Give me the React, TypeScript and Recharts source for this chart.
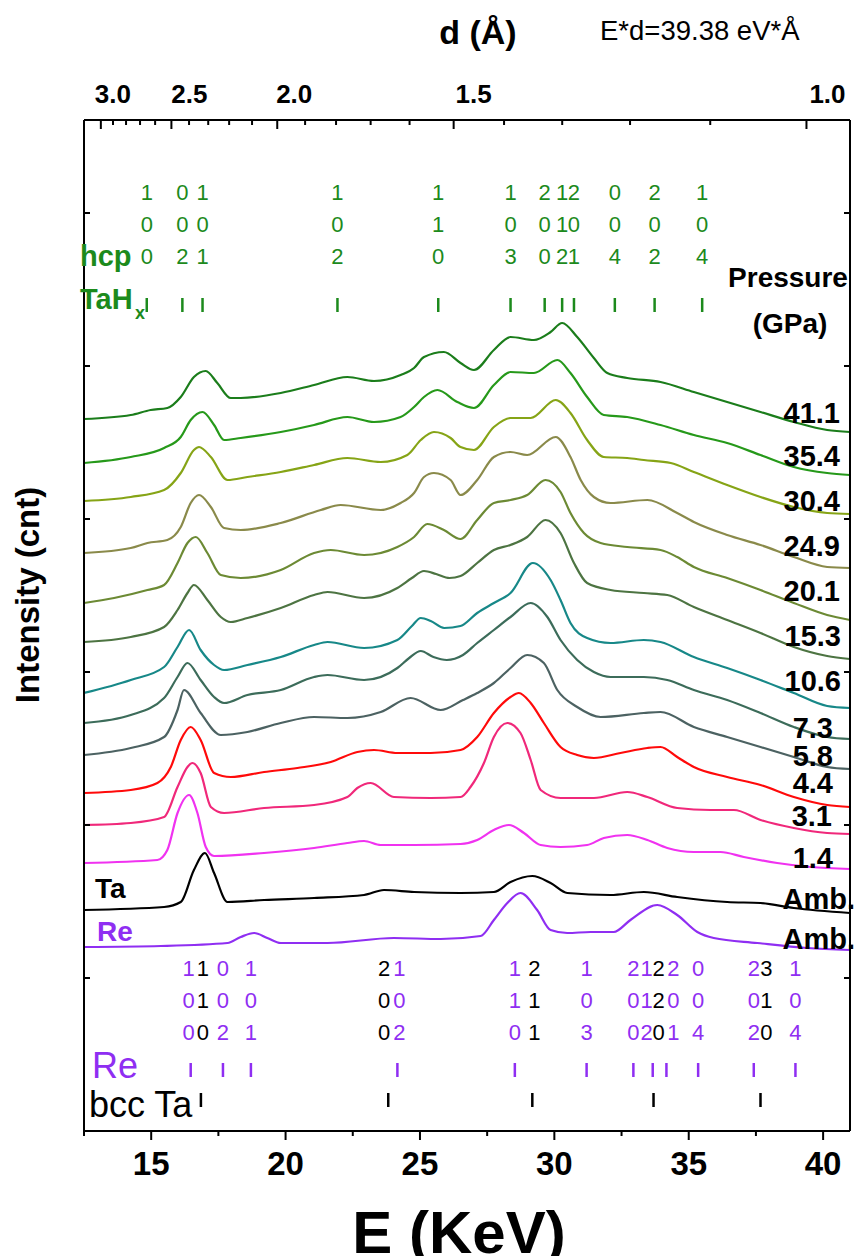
import React from "react";
import { ComposedChart, Line, Scatter, XAxis, YAxis } from "recharts";

const FONT = "'Liberation Sans', Arial, Helvetica, sans-serif";
const W = 857;
const H = 1256;
// plot frame in page pixels
const FRAME = { left: 84, right: 850, top: 120, bottom: 1131 };

// ---- spectra: [E (keV), stacked intensity (cnt)] ----
const p41_1: [number, number][] = [
  [12.5, 712], [14.24, 716], [14.98, 721], [15.6, 723], [16.1, 734], [16.59, 754], [17.03, 760],
  [17.46, 748], [17.96, 733], [18.33, 733], [19.82, 738], [21.06, 746], [22.3, 754], [23.29, 750],
  [24.28, 756], [24.78, 763], [25.15, 774], [25.89, 779], [26.51, 768], [27.01, 761], [27.75, 781],
  [28.37, 794], [29.24, 791], [29.86, 799], [30.29, 808], [30.85, 794], [31.47, 773], [31.97, 758],
  [32.71, 753], [33.95, 749], [35.19, 739], [36.43, 729], [37.67, 719], [38.91, 709], [40.15, 701], [41, 699],
];
const p35_4: [number, number][] = [
  [12.5, 668], [14.24, 674], [15.48, 683], [16.1, 694], [16.47, 711], [16.91, 719], [17.34, 706],
  [17.71, 691], [18.33, 693], [19.82, 699], [21.06, 706], [22.3, 714], [23.29, 709], [24.28, 714],
  [24.78, 724], [25.15, 734], [25.65, 741], [26.39, 729], [27.01, 723], [27.75, 746], [28.37, 759],
  [29.24, 758], [30.11, 771], [30.6, 758], [31.22, 734], [31.84, 716], [32.71, 714], [33.95, 706],
  [35.19, 696], [36.43, 688], [37.67, 676], [38.91, 664], [40.15, 658], [41, 656],
];
const p30_4: [number, number][] = [
  [12.5, 630], [14.24, 634], [15.48, 641], [16.1, 658], [16.59, 681], [16.78, 684], [17.22, 674],
  [17.84, 651], [18.58, 654], [19.82, 659], [21.06, 666], [22.3, 673], [23.54, 669], [24.53, 676],
  [25.03, 691], [25.52, 699], [26.14, 693], [26.51, 684], [27.01, 681], [27.75, 704], [28.37, 713],
  [29.12, 713], [30.05, 731], [30.6, 718], [31.22, 691], [31.84, 674], [32.71, 673], [33.33, 671],
  [34.33, 668], [35.19, 659], [36.43, 646], [37.67, 634], [38.91, 624], [40.15, 618], [41, 617],
];
const p24_9: [number, number][] = [
  [12.5, 578], [14.24, 583], [14.86, 588], [15.6, 591], [16.1, 604], [16.47, 628], [16.78, 636],
  [17.22, 624], [17.71, 603], [18.33, 601], [19.82, 608], [21.31, 621], [22.05, 626], [23.54, 621],
  [24.28, 628], [24.78, 638], [25.15, 654], [25.52, 658], [26.14, 651], [26.51, 636], [27.13, 651],
  [27.75, 674], [28.37, 679], [28.99, 676], [30.05, 694], [30.6, 674], [30.98, 651], [31.47, 634],
  [32.09, 628], [33.46, 631], [34.57, 618], [35.19, 609], [36.43, 596], [37.67, 586], [38.91, 574],
  [40.15, 564], [41, 563],
];
const p20_1: [number, number][] = [
  [12.5, 528], [13.62, 533], [14.86, 541], [15.48, 546], [15.98, 568], [16.35, 588], [16.66, 594],
  [17.09, 578], [17.59, 556], [18.33, 553], [19.82, 561], [21.06, 578], [21.68, 581], [22.92, 576],
  [24.16, 584], [24.78, 594], [25.27, 607], [25.89, 601], [26.51, 592], [27.13, 611], [27.75, 628],
  [28.37, 631], [28.99, 636], [29.67, 651], [30.23, 639], [30.6, 618], [31.1, 598], [31.72, 588],
  [32.71, 584], [33.95, 581], [34.57, 574], [35.19, 564], [36.43, 553], [37.67, 541], [38.91, 528],
  [40.15, 516], [41, 511],
];
const p15_3: [number, number][] = [
  [12.5, 489], [14.24, 494], [15.48, 504], [15.98, 521], [16.35, 538], [16.59, 546], [17.09, 531],
  [17.59, 514], [17.96, 509], [18.58, 513], [19.82, 523], [21.06, 536], [21.56, 539], [22.92, 533],
  [24.16, 543], [24.7, 553], [25.15, 560], [25.6, 557], [26.1, 553], [26.51, 555], [27.13, 568],
  [27.75, 581], [28.37, 586], [28.99, 594], [29.67, 611], [30.23, 598], [30.73, 568], [31.22, 548],
  [32.09, 541], [33.33, 538], [34.2, 536], [35.19, 524], [36.43, 511], [37.67, 498], [38.91, 484],
  [40.15, 475], [41, 472],
];
const p10_6: [number, number][] = [
  [12.5, 438], [14.24, 451], [15.48, 464], [15.98, 484], [16.41, 501], [16.84, 481], [17.34, 466],
  [17.71, 461], [18.58, 466], [19.82, 474], [21.06, 486], [21.56, 489], [22.92, 483], [24.16, 491],
  [24.7, 505], [25.03, 513], [25.4, 510], [25.9, 503], [26.51, 505], [27.13, 518], [27.75, 528],
  [28.37, 538], [29.2, 568], [29.86, 551], [30.23, 531], [30.6, 508], [31.22, 493], [32.09, 488],
  [33.33, 491], [33.95, 489], [35.19, 474], [36.43, 463], [37.67, 451], [38.91, 438], [40.15, 425], [41, 423],
];
const p7_3: [number, number][] = [
  [12.5, 408], [14.24, 416], [15.48, 433], [15.98, 454], [16.35, 468], [16.84, 451], [17.34, 434],
  [17.71, 428], [18.58, 436], [19.82, 441], [21.06, 454], [21.56, 456], [22.92, 451], [24.16, 463],
  [24.6, 473], [25.03, 480], [25.5, 474], [26.0, 471], [26.6, 476], [27.13, 488], [27.75, 501],
  [28.37, 514], [29.12, 528], [29.74, 514], [30.23, 491], [30.85, 471], [31.47, 459], [32.09, 454],
  [33.33, 454], [34.2, 451], [35.19, 441], [36.43, 431], [37.67, 418], [38.91, 404], [40.15, 394], [41, 392],
];
const p5_8: [number, number][] = [
  [12.5, 376], [14.24, 383], [15.48, 394], [15.98, 421], [16.22, 441], [16.84, 418], [17.59, 396],
  [18.58, 399], [19.82, 408], [21.06, 414], [22.3, 413], [23.54, 419], [24.65, 433], [25.77, 421],
  [26.6, 431], [27.13, 438], [27.75, 448], [28.37, 463], [28.99, 476], [29.61, 468], [30.11, 441],
  [30.85, 424], [31.72, 414], [33.33, 418], [33.95, 419], [35.19, 404], [36.43, 394], [37.67, 384],
  [38.91, 374], [40.15, 364], [41, 362],
];
const p4_4: [number, number][] = [
  [12.5, 338], [14.24, 341], [15.23, 348], [15.73, 364], [16.1, 391], [16.47, 404], [16.84, 391],
  [17.34, 358], [17.96, 354], [19.2, 359], [20.44, 363], [21.68, 369], [22.67, 379], [23.29, 381],
  [24.16, 378], [25.4, 378], [26.51, 381], [27.13, 394], [27.75, 418], [28.37, 434], [28.68, 438],
  [29.12, 428], [29.61, 408], [30.23, 384], [30.85, 376], [31.47, 373], [32.46, 378], [33.46, 383],
  [33.95, 384], [34.57, 374], [35.19, 364], [36.43, 354], [37.67, 346], [38.91, 334], [40.15, 326], [41, 324],
];
const p3_1: [number, number][] = [
  [12.5, 306], [14.24, 308], [15.48, 314], [15.98, 344], [16.35, 364], [16.53, 368], [16.84, 358],
  [17.22, 324], [17.71, 318], [19.2, 323], [21.06, 326], [22.3, 334], [22.67, 343], [23.17, 348],
  [24.03, 334], [25.4, 333], [26.51, 334], [26.88, 344], [27.38, 368], [27.75, 394], [28.25, 408],
  [28.74, 398], [29.12, 371], [29.49, 341], [30.23, 333], [31.47, 333], [32.71, 339], [33.46, 334],
  [34.57, 323], [35.81, 321], [36.68, 321], [37.67, 311], [38.91, 303], [40.15, 298], [41, 297],
];
const p1_4: [number, number][] = [
  [12.5, 268], [15.23, 271], [15.6, 281], [15.98, 318], [16.41, 336], [16.72, 318], [17.03, 284],
  [17.34, 275], [19.2, 278], [21.06, 283], [22.3, 288], [22.92, 290], [23.54, 286], [24.78, 286],
  [26.51, 287], [27.13, 291], [27.75, 301], [28.31, 306], [28.87, 298], [29.49, 286], [30.23, 284],
  [31.22, 286], [31.84, 293], [32.71, 296], [33.46, 291], [34.2, 283], [35.19, 279], [36.18, 279],
  [37.05, 274], [38.29, 268], [39.53, 264], [41, 262],
];
const pTa: [number, number][] = [
  [12.5, 221], [15.48, 224], [16.1, 229], [16.59, 261], [17.0, 278], [17.34, 258], [17.84, 229],
  [19.2, 231], [21.06, 233], [22.92, 236], [23.66, 241], [24.78, 239], [26.51, 238], [27.75, 239],
  [28.37, 249], [29.18, 255], [29.86, 248], [30.48, 238], [32.09, 236], [33.33, 239], [34.57, 234],
  [36.43, 229], [37.67, 228], [38.91, 223], [41, 218],
];
const pRe: [number, number][] = [
  [12.5, 184], [15.36, 185], [17.84, 188], [18.33, 194], [18.83, 198], [19.32, 193], [19.82, 188],
  [21.56, 188], [24.03, 193], [25.77, 192], [27.26, 195], [27.75, 211], [28.25, 228], [28.74, 238],
  [29.36, 221], [29.86, 201], [30.48, 198], [31.35, 199], [32.21, 199], [32.83, 211], [33.83, 226],
  [34.57, 216], [35.32, 199], [35.93, 193], [37.55, 188], [39.4, 183], [41, 181],
];

const PATTERNS = [
  { label: "41.1", color: "#1b7d1b", pts: p41_1 },
  { label: "35.4", color: "#26991a", pts: p35_4 },
  { label: "30.4", color: "#86a416", pts: p30_4 },
  { label: "24.9", color: "#8a8a4a", pts: p24_9 },
  { label: "20.1", color: "#6c8a34", pts: p20_1 },
  { label: "15.3", color: "#4d7442", pts: p15_3 },
  { label: "10.6", color: "#178888", pts: p10_6 },
  { label: "7.3", color: "#3c6c5a", pts: p7_3 },
  { label: "5.8", color: "#4c6262", pts: p5_8 },
  { label: "4.4", color: "#ff0a0a", pts: p4_4 },
  { label: "3.1", color: "#f0287a", pts: p3_1 },
  { label: "1.4", color: "#f032f0", pts: p1_4 },
  { label: "Amb.", color: "#000000", pts: pTa },
  { label: "Amb.", color: "#8f2ef2", pts: pRe },
];

// pressure label placement (page px): centre y, right edge x
const LABEL_Y = [412, 455, 500, 545, 590, 635, 680, 727, 755, 782, 815, 857, 898, 938];
const LABEL_X = [840, 840, 840, 840, 840, 841, 841, 833, 833, 833, 832, 833, 855, 855];

// ---- reflection markers ----
const HCP_E = [14.835, 16.16, 16.91, 21.93, 25.68, 28.37, 29.64, 30.29, 30.73, 32.25, 33.73, 35.5];
const HCP_HKL = ["100", "002", "101", "102", "110", "103", "200", "112", "201", "004", "202", "104"];
const RE_E = [16.47, 17.67, 18.71, 24.16, 28.53, 31.2, 32.94, 33.66, 34.17, 35.35, 37.42, 38.97];
const RE_HKL = ["100", "002", "101", "102", "110", "103", "200", "112", "201", "004", "202", "104"];
const TA_E = [16.85, 23.82, 29.18, 33.69, 37.67];
const TA_HKL = ["110", "200", "211", "220", "310"];
const RE_DX = [-2, 0, 0, 2, 0, 0, 0, -6, 7, 0, 0, 0];
const TA_DX = [2, -4, 2, 5, 6];

// ---- axes ----
const E_TICKS = [12.5, 15, 17.5, 20, 22.5, 25, 27.5, 30, 32.5, 35, 37.5, 40];
const E_D = 39.38;
const D_TICKS = [3.0, 2.9, 2.8, 2.7, 2.6, 2.5, 2.4, 2.3, 2.2, 2.1, 2.0, 1.9, 1.8, 1.7, 1.6, 1.5, 1.4, 1.3, 1.2, 1.1, 1.0];
const D_LABEL_DX: Record<string, number> = { "3.0": 12, "2.5": 18, "2.0": 17, "1.5": 20, "1.0": 21 };
const Y_TICKS = [153, 306, 459, 612, 765, 918];

const GREEN = "#1c8a1c";
const PURPLE = "#8f2ef2";
const Y_MAX = FRAME.bottom - FRAME.top;
const toH = (py: number) => FRAME.bottom - py;

function BottomTick(props: any) {
  const { x, payload } = props;
  const y = FRAME.bottom;
  const major = payload.value % 5 === 0;
  return (
    <g>
      <line x1={x} y1={y} x2={x} y2={y + (major ? 9 : 5)} stroke="#000" strokeWidth={2} />
      {major && (
        <text x={x} y={y + 44} textAnchor="middle" fontSize={33} fontWeight="bold" fontFamily={FONT} fill="#000">
          {payload.value}
        </text>
      )}
    </g>
  );
}

function TopTick(props: any) {
  const { x, payload } = props;
  const y = FRAME.top;
  const d = Math.round((E_D / payload.value) * 10) / 10;
  const major = Math.abs(d * 2 - Math.round(d * 2)) < 1e-6;
  const lbl = d.toFixed(1);
  return (
    <g>
      <line x1={x} y1={y} x2={x} y2={y + (major ? 9 : 5)} stroke="#000" strokeWidth={2} />
      {major && (
        <text x={x + (D_LABEL_DX[lbl] || 0)} y={y - 17} textAnchor="middle" fontSize={26} fontWeight="bold" fontFamily={FONT} fill="#000">
          {lbl}
        </text>
      )}
    </g>
  );
}

function LeftTick(props: any) {
  const { y } = props;
  const x = FRAME.left;
  return <line x1={x} y1={y} x2={x + 6} y2={y} stroke="#000" strokeWidth={2} />;
}

function RightTick(props: any) {
  const { y } = props;
  const x = FRAME.right;
  return <line x1={x} y1={y} x2={x - 6} y2={y} stroke="#000" strokeWidth={2} />;
}

function TickMark(color: string) {
  return (props: any) => {
    const { cx, cy } = props;
    return <line x1={cx} y1={cy - 7} x2={cx} y2={cy + 7} stroke={color} strokeWidth={2.5} />;
  };
}

function HklLabel(color: string) {
  return (props: any) => {
    const { cx, cy, payload } = props;
    const digits = String(payload.hkl).split("");
    return (
      <g>
        {digits.map((c, i) => (
          <text key={i} x={cx + (payload.dx || 0)} y={cy + i * 32} textAnchor="middle" fontSize={22} fontFamily={FONT} fill={color}>
            {c}
          </text>
        ))}
      </g>
    );
  };
}

const AXIS_LINE = { stroke: "#000", strokeWidth: 2 };

export default function App() {
  const hcpLabels = HCP_E.map((E, i) => ({ E, h: toH(200), hkl: HCP_HKL[i], dx: 0 }));
  const hcpTicks = HCP_E.map((E) => ({ E, h: toH(305) }));
  const reLabels = RE_E.map((E, i) => ({ E, h: toH(976), hkl: RE_HKL[i], dx: RE_DX[i] }));
  const reTicks = RE_E.map((E) => ({ E, h: toH(1070) }));
  const taLabels = TA_E.map((E, i) => ({ E, h: toH(976), hkl: TA_HKL[i], dx: TA_DX[i] }));
  const taTicks = TA_E.map((E) => ({ E, h: toH(1100) }));

  const txt = { fontFamily: FONT };

  return (
    <div style={{ position: "absolute", left: 0, top: 0, width: W, height: H, background: "#fff" }}>
      <ComposedChart
        width={W}
        height={H}
        margin={{ top: FRAME.top - 1, right: W - FRAME.right - 1, bottom: H - FRAME.bottom - 1, left: FRAME.left - 1 }}
      >
        <XAxis
          xAxisId="bottom"
          type="number"
          dataKey="E"
          domain={[12.5, 41]}
          allowDataOverflow
          ticks={E_TICKS}
          interval={0}
          height={1}
          tickSize={0}
          tickMargin={0}
          tickLine={false}
          axisLine={AXIS_LINE}
          tick={BottomTick}
        />
        <XAxis
          xAxisId="top"
          orientation="top"
          type="number"
          dataKey="E"
          domain={[12.5, 41]}
          allowDataOverflow
          ticks={D_TICKS.map((d) => E_D / d)}
          interval={0}
          height={1}
          tickSize={0}
          tickMargin={0}
          tickLine={false}
          axisLine={AXIS_LINE}
          tick={TopTick}
        />
        <YAxis
          yAxisId="left"
          type="number"
          dataKey="h"
          domain={[0, Y_MAX]}
          allowDataOverflow
          ticks={Y_TICKS}
          interval={0}
          width={1}
          tickSize={0}
          tickMargin={0}
          tickLine={false}
          axisLine={AXIS_LINE}
          tick={LeftTick}
        />
        <YAxis
          yAxisId="right"
          orientation="right"
          type="number"
          dataKey="h"
          domain={[0, Y_MAX]}
          allowDataOverflow
          ticks={Y_TICKS}
          interval={0}
          width={1}
          tickSize={0}
          tickMargin={0}
          tickLine={false}
          axisLine={AXIS_LINE}
          tick={RightTick}
        />
        {PATTERNS.map((p, i) => (
          <Line
            key={i}
            xAxisId="bottom"
            yAxisId="left"
            data={p.pts.map(([E, h]) => ({ E, h }))}
            dataKey="h"
            type="monotone"
            stroke={p.color}
            strokeWidth={2.2}
            dot={false}
            activeDot={false}
            isAnimationActive={false}
          />
        ))}
        <Scatter xAxisId="top" yAxisId="right" data={hcpLabels} dataKey="h" shape={HklLabel(GREEN)} isAnimationActive={false} />
        <Scatter xAxisId="top" yAxisId="right" data={hcpTicks} dataKey="h" shape={TickMark(GREEN)} isAnimationActive={false} />
        <Scatter xAxisId="bottom" yAxisId="right" data={reLabels} dataKey="h" shape={HklLabel(PURPLE)} isAnimationActive={false} />
        <Scatter xAxisId="bottom" yAxisId="right" data={reTicks} dataKey="h" shape={TickMark(PURPLE)} isAnimationActive={false} />
        <Scatter xAxisId="bottom" yAxisId="right" data={taLabels} dataKey="h" shape={HklLabel("#000")} isAnimationActive={false} />
        <Scatter xAxisId="bottom" yAxisId="right" data={taTicks} dataKey="h" shape={TickMark("#000")} isAnimationActive={false} />
      </ComposedChart>

      <svg width={W} height={H} style={{ position: "absolute", left: 0, top: 0, pointerEvents: "none" }}>
        <text x={478} y={44} textAnchor="middle" fontSize={34} fontWeight="bold" {...txt}>d (Å)</text>
        <text x={600} y={40} fontSize={27.5} {...txt}>E*d=39.38 eV*Å</text>
        <text x={39} y={595} transform="rotate(-90 39 595)" textAnchor="middle" fontSize={33} fontWeight="bold" {...txt}>
          Intensity (cnt)
        </text>
        <text x={459} y={1253} textAnchor="middle" fontSize={60} fontWeight="bold" {...txt}>E (KeV)</text>

        <text x={788} y={287} textAnchor="middle" fontSize={28} fontWeight="bold" {...txt}>Pressure</text>
        <text x={790} y={333} textAnchor="middle" fontSize={28} fontWeight="bold" {...txt}>(GPa)</text>
        {PATTERNS.map((p, i) => (
          <text key={i} x={LABEL_X[i]} y={LABEL_Y[i] + 10.5} textAnchor="end" fontSize={29} fontWeight="bold" {...txt}>
            {p.label}
          </text>
        ))}

        <text x={80} y={266} fontSize={29} fontWeight="bold" fill={GREEN} {...txt}>hcp</text>
        <text x={80} y={309} fontSize={29} fontWeight="bold" fill={GREEN} {...txt}>TaH</text>
        <text x={135} y={319} fontSize={18} fontWeight="bold" fill={GREEN} {...txt}>x</text>

        <text x={95} y={898} fontSize={28} fontWeight="bold" {...txt}>Ta</text>
        <text x={97} y={941} fontSize={28} fontWeight="bold" fill={PURPLE} {...txt}>Re</text>
        <text x={92} y={1078} fontSize={36} fill={PURPLE} {...txt}>Re</text>
        <text x={89} y={1117} fontSize={36} {...txt}>bcc Ta</text>
      </svg>
    </div>
  );
}
